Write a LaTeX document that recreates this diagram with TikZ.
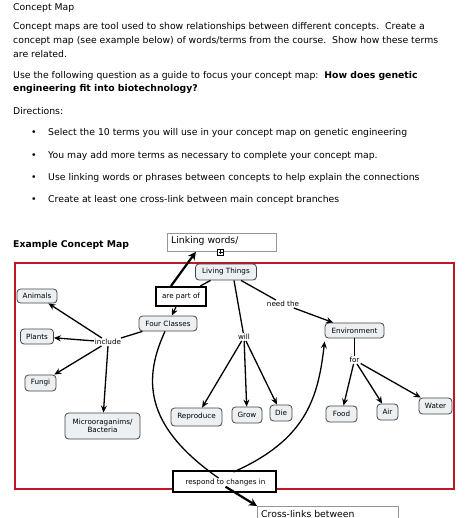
\documentclass[tikz,border=0pt]{standalone}
\usepackage{fontspec}
\setmainfont{DejaVu Sans}
\usetikzlibrary{arrows.meta,calc}
\definecolor{framered}{RGB}{190,25,35}
\definecolor{cfill}{RGB}{236,240,243}
\definecolor{cdraw}{RGB}{70,70,70}
\definecolor{boxgray}{RGB}{150,150,150}
\tikzset{
  body/.style={anchor=west,inner sep=0pt,font=\fontsize{9.3}{11}\selectfont},
  concept/.style={draw=cdraw,fill=cfill,rounded corners=3.5pt,line width=0.8pt,
    font=\fontsize{7.2}{8.5}\selectfont,inner xsep=3pt,inner ysep=0pt,minimum height=15pt,align=center},
  linkw/.style={fill=white,inner sep=1pt,font=\fontsize{7.2}{8.5}\selectfont},
  thickbox/.style={draw=black,line width=2pt,fill=white,font=\fontsize{7.2}{8.5}\selectfont,inner sep=0pt},
  conn/.style={line width=1.3pt,black},
  arr/.style={conn,-{Stealth[length=7pt,width=6pt]}},
  bigarr/.style={line width=2.2pt,-{Stealth[length=8pt,width=8pt]}},
  notebox/.style={draw=boxgray,line width=0.8pt,fill=white,anchor=north west,inner sep=0pt}
}
\begin{document}
\begin{tikzpicture}[x=1pt,y=-1pt]
\useasboundingbox (0,0) rectangle (474,518);
\clip (0,0) rectangle (474,518);
\fill[white] (0,0) rectangle (474,518);
% text
\node[body] (title) at (13,8) {Concept Map};
\node[body] (p1) at (13,27) {Concept maps are tool used to show relationships between different concepts.\ \ Create a};
\node[body] (p2) at (13,41) {concept map (see example below) of words/terms from the course.\ \ Show how these terms};
\node[body] (p3) at (13,54) {are related.};
\node[body] (q1) at (13,76) {Use the following question as a guide to focus your concept map:\ \ \textbf{How does genetic}};
\node[body] (q2) at (13,89) {\textbf{engineering fit into biotechnology?}};
\node[body] (dir) at (13,111) {Directions:};
\foreach \yy/\tt in {133/{Select the 10 terms you will use in your concept map on genetic engineering},
                     156/{You may add more terms as necessary to complete your concept map.},
                     178/{Use linking words or phrases between concepts to help explain the connections},
                     200/{Create at least one cross-link between main concept branches}}{
  \node[body] at (31,\yy) {•};
  \node[body] at (48,\yy) {\tt};
}
\node[body] (ex) at (13,245) {\textbf{Example Concept Map}};

% red frame
\draw[framered,line width=2.5pt] (15,263) rectangle (454,489);

% linking words box
\node[notebox,minimum width=109pt,minimum height=18pt] (lw) at (167,233) {};
\node[body] (lwt) at (171,241) {Linking words/};
\draw[black,line width=0.5pt,fill=white] (217.5,249) rectangle (223.5,255);
\draw[black,line width=0.5pt] (220.5,250) -- (220.5,254) (218.5,252) -- (222.5,252);

% cross-links box
\node[notebox,minimum width=141pt,minimum height=20pt] (cl) at (257,506) {};
\node[body] (clt) at (261,514) {Cross-links between};

% concepts
\node[concept,minimum width=61pt,minimum height=16pt] (lt) at (226,272) {Living Things};
\node[thickbox,minimum width=50pt,minimum height=19pt] (apo) at (181,296.5) {are part of};
\node[concept,minimum width=58pt] (fc) at (168,323.5) {Four Classes};
\node[concept,minimum width=40pt,minimum height=14pt] (an) at (37,296) {Animals};
\node[concept,minimum width=33pt] (pl) at (37,336.5) {Plants};
\node[concept,minimum width=31pt,minimum height=16pt] (fu) at (40.5,383) {Fungi};
\node[concept,minimum width=75pt,minimum height=26pt] (mb) at (102.5,426) {Microoraganims/\\Bacteria};
\node[concept,minimum width=51pt,minimum height=18pt] (rp) at (196.5,417) {Reproduce};
\node[concept,minimum width=30pt,minimum height=16pt] (gr) at (247,415) {Grow};
\node[concept,minimum width=22pt,minimum height=16pt] (di) at (281,413) {Die};
\node[concept,minimum width=59pt] (en) at (354.5,330.5) {Environment};
\node[concept,minimum width=31pt,minimum height=16pt] (fo) at (341.5,414) {Food};
\node[concept,minimum width=21pt,minimum height=16pt] (ai) at (387.5,412) {Air};
\node[concept,minimum width=33pt,minimum height=16pt] (wa) at (435.5,406) {Water};
\node[thickbox,minimum width=103pt,minimum height=21pt] (rc) at (224.5,481.5) {};
\node[font=\fontsize{7.2}{8.5}\selectfont,inner sep=0pt] (rct) at (225.5,483) {respond to changes in};

% linking labels
\node[linkw] (inc) at (108,342) {include};
\node[linkw] (will) at (244,337) {will};
\node[linkw] (need) at (283,304) {need the};
\node[linkw] (for) at (354.5,360) {for};

% connectors
\draw[conn] (lt) -- (apo);
\draw[arr] (apo) -- (fc);
\draw[conn] (lt) -- (need);
\draw[arr] (need) -- (en);
\draw[conn] (lt.south) ++(8,0) -- (will);
\draw[arr] (will) -- (rp);
\draw[arr] (will) -- (gr);
\draw[arr] (will) -- (di);
\draw[conn] (fc) -- (inc);
\draw[arr] (inc) -- (an);
\draw[arr] (inc) -- (pl);
\draw[arr] (inc) -- (fu);
\draw[arr] (inc.south) -- (mb);
\draw[conn] (en) -- (for);
\draw[arr] (for) -- (fo);
\draw[arr] (for) -- (ai);
\draw[arr] (for) -- (wa);

% cross link
\draw[conn] ([xshift=-3pt]fc.south) .. controls (140,385) and (150,430) .. ([shift={(-7,-5)}]rct.center);
\draw[arr] ([shift={(8,-11)}]rct.center) .. controls (305,440) and (318,400) .. ([shift={(0,3)}]en.south west);

% big arrows
\draw[bigarr] ([xshift=-10pt]apo.north) -- ([xshift=-26pt]lw.south);
\draw[bigarr] (rct.south) -- (cl.north west);
\end{tikzpicture}
\end{document}
